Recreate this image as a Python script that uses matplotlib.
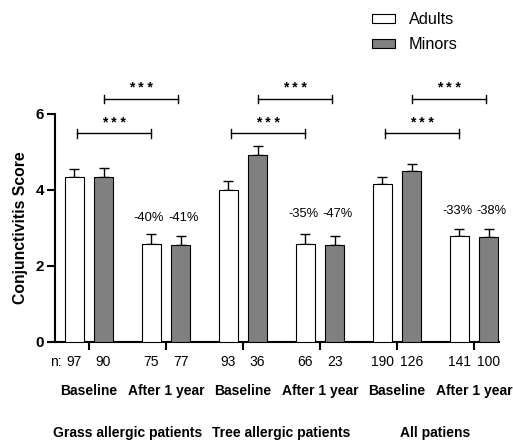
import numpy as np
import matplotlib
matplotlib.use('Agg')
import matplotlib.pyplot as plt
from matplotlib.patches import Patch

plt.rcParams['font.family'] = ['Liberation Sans', 'DejaVu Sans']

# data
groups = ['Grass allergic patients', 'Tree allergic patients', 'All patiens']
times = ['Baseline', 'After 1 year'] * 3
adults_mean = [4.35, 2.57, 4.01, 2.57, 4.17, 2.78]
adults_err = [0.21, 0.27, 0.23, 0.26, 0.18, 0.19]
minors_mean = [4.34, 2.55, 4.92, 2.54, 4.50, 2.76]
minors_err = [0.25, 0.25, 0.24, 0.26, 0.19, 0.22]
n_adults = [97, 75, 93, 66, 190, 141]
n_minors = [90, 77, 36, 23, 126, 100]
pct_adults = ['-40%', '-35%', '-33%']
pct_minors = ['-41%', '-47%', '-38%']
pct_y = [3.26, 3.37, 3.45]
sig_low = [5.49, 5.49, 5.49]
sig_high = [6.39, 6.39, 6.39]

x = np.arange(len(times))
off = 0.19
w = 0.245

fig = plt.figure(figsize=(5.13, 4.46), dpi=100)
ax = fig.add_axes([0.1072, 0.2332, 0.8655, 0.588])

ax.bar(x - off, adults_mean, w, color='white', edgecolor='black', linewidth=0.8, zorder=3)
ax.bar(x + off, minors_mean, w, color='#808080', edgecolor='black', linewidth=0.8, zorder=3)
ax.errorbar(x - off, adults_mean, yerr=[np.zeros(6), adults_err], fmt='none',
            ecolor='black', elinewidth=1, capsize=3.5, capthick=1, zorder=2)
ax.errorbar(x + off, minors_mean, yerr=[np.zeros(6), minors_err], fmt='none',
            ecolor='black', elinewidth=1, capsize=3.5, capthick=1, zorder=2)

ax.set_xlim(-0.44, 5.325)
ax.set_ylim(0, 6.9)
ax.set_yticks([0, 2, 4, 6])
ax.set_yticklabels(['0', '2', '4', '6'], fontweight='bold', fontsize=11)
ax.set_xticks(x)
ax.set_xticklabels([])
ax.tick_params(axis='both', length=6, width=1.5, direction='out')
ax.tick_params(axis='y', pad=2)
for s in ['top', 'right']:
    ax.spines[s].set_visible(False)
ax.spines['left'].set_bounds(0, 6)
ax.spines['left'].set_linewidth(1.5)
ax.spines['bottom'].set_linewidth(1.5)
ax.set_ylabel('Conjunctivitis Score', fontweight='bold', fontsize=11.3)
ax.yaxis.set_label_coords(-0.061, 0.435)

# percent change labels
for i in range(3):
    xi = x[2 * i + 1]
    ax.text(xi - off - 0.03, pct_y[i], pct_adults[i], ha='center', va='center', fontsize=9.3)
    ax.text(xi + off + 0.04, pct_y[i], pct_minors[i], ha='center', va='center', fontsize=9.3)

# significance brackets
def bracket(x0, x1, y):
    ax.plot([x0, x1], [y, y], color='black', lw=1, clip_on=False)
    for xx in (x0, x1):
        ax.plot([xx, xx], [y - 0.11, y + 0.11], color='black', lw=1, clip_on=False)
    ax.text((x0 + x1) / 2, y + 0.1, '* * *', ha='center', va='bottom',
            fontsize=10, fontweight='bold', clip_on=False)

for i in range(3):
    b, a = x[2 * i], x[2 * i + 1]
    bracket(b - off + 0.03, a - off, sig_low[i])
    bracket(b + off + 0.01, a + off - 0.03, sig_high[i])

# n labels, time labels, group labels
def below(xv, dy, s, **kw):
    ax.annotate(s, xy=(xv, 0), xycoords=('data', 'axes fraction'),
                xytext=(0, -dy), textcoords='offset points',
                ha='center', va='center', annotation_clip=False, **kw)

below(-0.43, 14.4, 'n:', fontsize=10)
for i in range(6):
    below(x[i] - off, 14.4, str(n_adults[i]), fontsize=10)
    below(x[i] + off, 14.4, str(n_minors[i]), fontsize=10)
    below(x[i], 35.3, times[i], fontsize=10, fontweight='bold')
for i in range(3):
    below(x[2 * i] + 0.5, 65.5, groups[i], fontsize=10, fontweight='bold')

handles = [Patch(facecolor='white', edgecolor='black', linewidth=0.8, label='Adults'),
           Patch(facecolor='#808080', edgecolor='black', linewidth=0.8, label='Minors')]
fig.legend(handles=handles, loc='upper left', bbox_to_anchor=(0.725, 0.973),
           frameon=False, fontsize=11.7, handlelength=1.4, handleheight=0.5,
           handletextpad=0.85, labelspacing=0.62, borderpad=0, borderaxespad=0)

fig.savefig('out.png', dpi=100)
